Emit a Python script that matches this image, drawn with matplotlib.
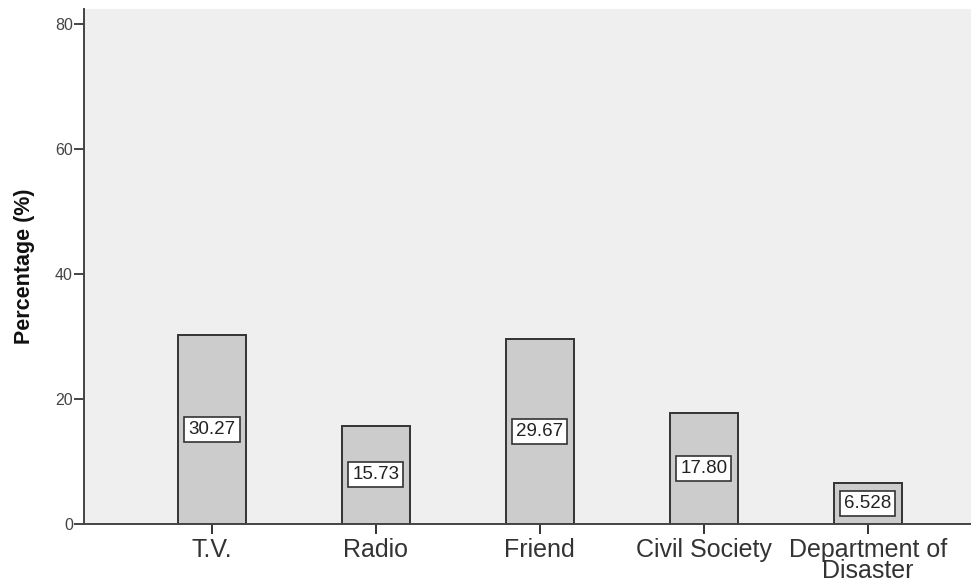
import matplotlib
matplotlib.use("Agg")
import matplotlib.pyplot as plt
import numpy as np

categories = ["T.V.", "Radio", "Friend", "Civil Society", "Department of\nDisaster"]
percentages = [30.27, 15.73, 29.67, 17.80, 6.528]
value_labels = ["30.27", "15.73", "29.67", "17.80", "6.528"]
y_ticks = [0, 20, 40, 60, 80]

plt.rcParams["font.family"] = ["Liberation Sans", "DejaVu Sans"]

fig = plt.figure(figsize=(9.71, 5.82), dpi=100)
ax = fig.add_axes([0.0865, 0.0997, 0.9135, 0.8848])
ax.set_facecolor("#efefef")

x = np.arange(len(categories))
ax.bar(x, percentages, width=0.415, color="#cccccc", edgecolor="#333333",
       linewidth=1.4, zorder=2)

for xi, val, lab in zip(x, percentages, value_labels):
    ax.text(xi, val / 2, lab, ha="center", va="center", fontsize=13.5,
            color="#222222", zorder=3,
            bbox=dict(boxstyle="square,pad=0.22", facecolor="white",
                      edgecolor="#333333", linewidth=1.2))

ax.set_xlim(-0.78, 4.63)
ax.set_ylim(0, 82.4)
ax.set_yticks(y_ticks)
ax.set_yticklabels([str(t) for t in y_ticks])
ax.set_xticks(x)
ax.set_xticklabels(categories, fontsize=18, color="#333333", linespacing=0.85)

ax.tick_params(axis="y", length=7, width=1.4, color="#444444", labelsize=11.5,
               labelcolor="#444444", pad=1)
ax.tick_params(axis="x", length=7, width=1.4, color="#333333", pad=3)

for side in ["top", "right"]:
    ax.spines[side].set_visible(False)
for side in ["left", "bottom"]:
    ax.spines[side].set_color("#444444")
    ax.spines[side].set_linewidth(1.4)

ax.set_ylabel("Percentage (%)", fontsize=15.5, fontweight="bold", color="#111111")
ax.yaxis.set_label_coords(-0.055, 0.5)

fig.savefig("out.png", dpi=100)
